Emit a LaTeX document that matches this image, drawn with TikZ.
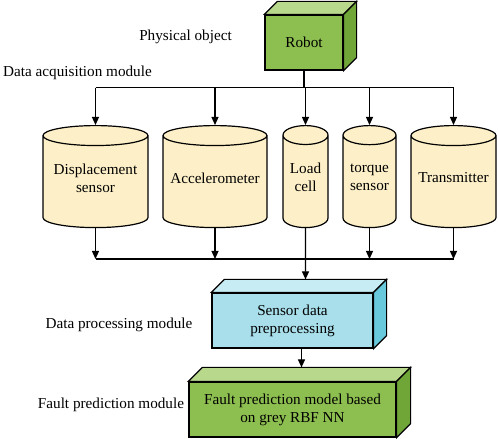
\documentclass[tikz,border=0pt]{standalone}
\usepackage{fontspec}
\setmainfont{Liberation Serif}
\usetikzlibrary{shapes.geometric,arrows.meta,calc}

\definecolor{greenfront}{RGB}{141,190,80}
\definecolor{greentop}{RGB}{184,216,140}
\definecolor{greenside}{RGB}{112,166,56}
\definecolor{bluefront}{RGB}{168,223,235}
\definecolor{bluetop}{RGB}{200,236,244}
\definecolor{blueside}{RGB}{104,200,220}
\definecolor{sensorfill}{RGB}{253,240,200}

\tikzset{
  flow/.style={-{Triangle[length=8pt,width=7pt]}},
  cube/.style={draw, align=center, inner sep=0pt},
  sensor/.style={cylinder, shape border rotate=90, draw, fill=sensorfill,
    inner sep=0pt, minimum height=102pt, anchor=north},
  lbl/.style={inner sep=0pt}
}

\begin{document}
\begin{tikzpicture}[x=1pt, y=1pt, line width=1.2pt, font=\fontsize{15.2}{18}\selectfont]
  \useasboundingbox (0,0) rectangle (498,439);

  % Blocks
  \node[cube, fill=greenfront, minimum width=78pt, minimum height=55pt] (robot) at (304,396.5) {Robot};
  \node[cube, fill=bluefront, minimum width=161pt, minimum height=55pt] (prep) at (292.5,118.5) {Sensor data\\preprocessing};
  \node[cube, fill=greenfront, minimum width=207pt, minimum height=55pt] (fault) at (292.5,29.5) {Fault prediction model based\\on grey RBF NN};

  % Top and side faces
  \foreach \name/\top/\side/\d in {robot/greentop/greenside/13, prep/bluetop/blueside/13, fault/greentop/greenside/14} {
    \filldraw[fill=\top] (\name.north west) -- ++(\d,\d) -- ($(\name.north east)+(\d,\d)$) -- (\name.north east) -- cycle;
    \filldraw[fill=\side] (\name.north east) -- ++(\d,\d) -- ($(\name.south east)+(\d,\d)$) -- (\name.south east) -- cycle;
  }

  % Sensors
  \foreach \s/\x/\w/\a/\txt in {disp/95.5/105/0.19/{Displacement\\sensor},
      acc/215/104/0.192/{Accelerometer}, load/305.5/45/0.42/{Load\\cell},
      torque/369.5/53/0.36/{torque\\sensor}, trans/453.5/85/0.235/{Transmitter}} {
    \node[sensor, minimum width=\w pt, aspect=\a] (\s) at (\x,314) {\rule{\w pt}{0pt}};
    \node[align=center, inner sep=0pt] (\s-text) at ($(\s.center)+(0,4)$) {\txt};
  }

  % Labels
  \node[lbl] (phys) at (185.5,402) {Physical object};
  \node[lbl] (acqlbl) at (77.5,366) {Data acquisition module};
  \node[lbl] (proclbl) at (119,114) {Data processing module};
  \node[lbl] (faultlbl) at (111,34) {Fault prediction module};

  % Robot to sensors
  \draw (robot.south) -- ++(0,-17) coordinate (bus);
  \draw (disp.north |- bus) -- (trans.north |- bus);
  \foreach \s in {disp,acc,load,torque,trans}
    \draw[flow] (\s.north |- bus) -- (\s.north);

  % Sensors to preprocessing
  \coordinate (col) at (0,180);
  \draw (disp.south |- col) -- (trans.south |- col);
  \foreach \s in {disp,acc,torque,trans}
    \draw[flow] (\s.south) -- (\s.south |- col);
  \draw[flow] (load.south) -- ($(prep.north)+(13,13)$);

  % Preprocessing to model
  \draw[flow] ($(prep.south)+(9,0)$) -- ($(fault.north)+(9,14)$);

\end{tikzpicture}
\end{document}
